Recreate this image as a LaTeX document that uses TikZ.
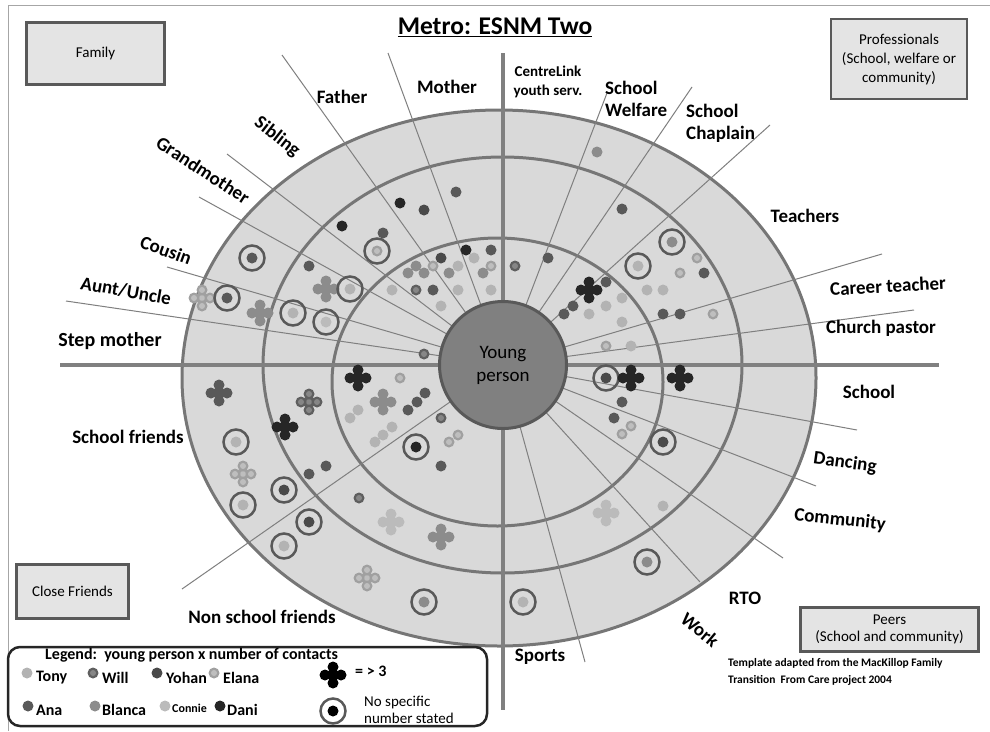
\documentclass[tikz,border=0pt]{standalone}
\usepackage{fontspec}
\setmainfont{Carlito}
\usetikzlibrary{positioning}

\definecolor{ringfill}{HTML}{D9D9D9}
\definecolor{ringline}{HTML}{767676}
\definecolor{spokec}{HTML}{7F7F7F}
\definecolor{crossc}{HTML}{808080}
\definecolor{ypfill}{HTML}{808080}
\definecolor{ypline}{HTML}{595959}
\definecolor{boxfill}{HTML}{E4E4E4}
\definecolor{boxline}{HTML}{595959}
\definecolor{markc}{HTML}{595959}
\definecolor{framec}{HTML}{A6A6A6}
% person colours: o = outer, i = inner
\definecolor{tonyo}{HTML}{B3B3B3}\colorlet{tonyi}{tonyo}
\definecolor{willo}{HTML}{5F5F5F}\definecolor{willi}{HTML}{868686}
\definecolor{yohano}{HTML}{4A4A4A}\colorlet{yohani}{yohano}
\definecolor{elanao}{HTML}{A0A0A0}\definecolor{elanai}{HTML}{BEBEBE}
\definecolor{anao}{HTML}{595959}\colorlet{anai}{anao}
\definecolor{blancao}{HTML}{8C8C8C}\colorlet{blancai}{blancao}
\definecolor{connieo}{HTML}{BBBBBB}\colorlet{conniei}{connieo}
\definecolor{danio}{HTML}{262626}\colorlet{danii}{danio}
\colorlet{blko}{black}\colorlet{blki}{black}

\newcommand{\pdot}[2]{\fill[#1o] (#2) circle (5.5); \fill[#1i] (#2) circle (3);}
\newcommand{\pring}[2]{\draw[ringmark] (#2) circle (12.5); \pdot{#1}{#2}}
\newcommand{\pclover}[2]{\begin{scope}[shift={(#2)}]
  \pdot{#1}{0,0}
  \foreach \a in {0,90,180,270} {\pdot{#1}{\a:8}}
\end{scope}}

\tikzset{
  lbl/.style={font=\bfseries\fontsize{19}{22}\selectfont, inner sep=0pt},
  boxnode/.style={draw=boxline, fill=boxfill, line width=2.5pt, align=center,
    font=\fontsize{15}{19}\selectfont, inner sep=2pt},
  spoke/.style={draw=spokec, line width=1pt},
  cross/.style={draw=crossc, line width=4pt},
  ringmark/.style={draw=markc, line width=2.5pt},
  legname/.style={font=\bfseries\fontsize{16}{18}\selectfont, inner sep=0pt, anchor=west},
}

\begin{document}
\begin{tikzpicture}[x=1pt,y=-1pt]
\useasboundingbox (0,0) rectangle (990,731);
\draw[framec, line width=1pt] (8,731) -- (8,5) -- (990,5);

% rings
\filldraw[fill=ringfill, draw=ringline, line width=3pt] (499,378) ellipse [x radius=317, y radius=268];
\draw[ringline, line width=3pt] (502.5,365) ellipse [x radius=239.5, y radius=208];
\draw[ringline, line width=3pt] (497.5,382) ellipse [x radius=165.5, y radius=144];

% spokes
\coordinate (c) at (503,365);
\coordinate (mf) at (388,53);
\coordinate (fs) at (282,55);
\coordinate (sg) at (227,154);
\coordinate (gc) at (199,197);
\coordinate (ca) at (167,267);
\coordinate (as) at (66,301);
\coordinate (cw) at (607,93);
\coordinate (wc) at (692,87);
\coordinate (ct) at (770,125);
\coordinate (tc) at (882,254);
\coordinate (cp) at (914,310);
\coordinate (sd) at (857,430);
\coordinate (dc) at (816,486);
\coordinate (cr) at (783,558);
\coordinate (rw) at (700,582);
\coordinate (ws) at (585,662);
\coordinate (nf) at (182,589);
\foreach \e in {mf,fs,sg,gc,ca,as,cw,wc,ct,tc,cp,sd,dc,cr,rw,ws,nf}
  \draw[spoke] (c) -- (\e);

\draw[cross] (60,365) -- (939,365);
\draw[cross] (503,53) -- (503,710);

\node[circle, fill=ypfill, draw=ypline, line width=3pt, minimum size=127pt, align=center,
  font=\fontsize{19}{23}\selectfont] (yp) at (c) {Young\\person};

% family
\pdot{dani}{400,203}
\pdot{yohan}{424,210}
\pdot{ana}{456,192}
\pdot{dani}{342,226}
\pdot{ana}{383,233}
\pring{elana}{377,251}
\pdot{ana}{309,266}
\pring{ana}{252,258}
\pdot{yohan}{441,258}
\pdot{dani}{466,250}
\pdot{ana}{491,250}
\pdot{elana}{433,266}
\pdot{blanca}{416,266}
\pdot{blanca}{408,273}
\pdot{blanca}{424,273}
\pdot{tony}{458,266}
\pdot{tony}{474,258}
\pdot{elana}{491,266}
\pdot{blanca}{449,273}
\pdot{blanca}{483,273}
\pdot{tony}{392,290}
\pdot{will}{416,290}
\pdot{ana}{433,290}
\pdot{tony}{458,290}
\pdot{tony}{491,290}
\pdot{tony}{441,306}
\pclover{blanca}{326,289}
\pring{tony}{350,289}
\pring{tony}{293,313}
\pring{connie}{326,322}
\pclover{elana}{202,298}
\pring{ana}{227,298}
\pclover{blanca}{260,313}
\pdot{will}{424,354}

% professionals
\pdot{blanca}{597,152}
\pdot{ana}{622,209}
\pdot{will}{515,266}
\pdot{ana}{548,258}
\pring{blanca}{672,242}
\pring{tony}{638,266}
\pdot{elana}{697,258}
\pdot{elana}{680,273}
\pdot{ana}{704,273}
\pdot{tony}{647,290}
\pdot{tony}{663,290}
\pclover{dani}{589,290}
\pdot{ana}{606,282}
\pdot{ana}{573,306}
\pdot{ana}{564,314}
\pdot{tony}{589,314}
\pdot{tony}{606,306}
\pdot{tony}{622,298}
\pdot{tony}{622,322}
\pdot{ana}{663,314}
\pdot{ana}{680,314}
\pdot{elana}{713,314}
\pdot{elana}{606,346}
\pdot{tony}{631,346}

% peers
\pring{yohan}{606,378}
\pclover{dani}{631,378}
\pclover{dani}{680,378}
\pdot{ana}{622,402}
\pdot{ana}{614,418}
\pdot{elana}{631,426}
\pdot{elana}{622,434}
\pring{yohan}{663,442}
\pclover{connie}{606,513}
\pdot{tony}{663,506}
\pring{blanca}{647,562}
\pring{tony}{523,602}

% close friends
\pclover{dani}{358,378}
\pdot{elana}{400,378}
\pclover{will}{309,402}
\pclover{blanca}{383,402}
\pdot{ana}{425,393}
\pdot{ana}{417,402}
\pdot{ana}{408,410}
\pdot{tony}{358,410}
\pdot{tony}{350,418}
\pdot{tony}{392,427}
\pdot{tony}{383,435}
\pdot{tony}{375,442}
\pdot{will}{441,418}
\pdot{elana}{458,435}
\pdot{elana}{449,442}
\pring{dani}{416,447}
\pdot{ana}{441,466}
\pclover{dani}{285,427}
\pclover{ana}{219,393}
\pring{tony}{236,442}
\pclover{elana}{243,474}
\pring{tony}{243,505}
\pdot{ana}{309,474}
\pdot{ana}{326,466}
\pring{yohan}{284,490}
\pring{yohan}{309,522}
\pring{tony}{284,546}
\pdot{will}{359,498}
\pclover{connie}{391,522}
\pclover{blanca}{441,537}
\pclover{elana}{367,578}
\pring{blanca}{424,602}

% sector labels
\node[font=\bfseries\fontsize{25.5}{29}\selectfont, inner sep=0pt] (title) at (495,27) {\underline{Metro: ESNM Two}};
\node[lbl] (mother) at (447,87) {Mother};
\node[lbl] (father) at (342,97) {Father};
\node[lbl, rotate=-38] (sibling) at (277,137) {Sibling};
\node[lbl, rotate=-33] (grandmother) at (203,170) {Grandmother};
\node[lbl, rotate=-20] (cousin) at (166,250) {Cousin};
\node[lbl, rotate=-10] (aunt) at (126,291) {Aunt/Uncle};
\node[lbl, font=\bfseries\fontsize{20}{22}\selectfont] (stepmother) at (110,341) {Step mother};
\node[lbl, align=center, font=\bfseries\fontsize{15}{19}\selectfont] (centrelink) at (548,82) {CentreLink\\youth serv.};
\node[lbl, align=left, anchor=west] (welfare) at (605,99) {School\\Welfare};
\node[lbl, align=left, anchor=west] (chaplain) at (686,123) {School\\Chaplain};
\node[lbl] (teachers) at (805,216) {Teachers};
\node[lbl, rotate=3] (career) at (888,286) {Career teacher};
\node[lbl] (church) at (881,328) {Church pastor};
\node[lbl] (school) at (869,392) {School};
\node[lbl, rotate=-8] (dancing) at (845,463) {Dancing};
\node[lbl, rotate=-6] (community) at (840,520) {Community};
\node[lbl] (rto) at (745,598) {RTO};
\node[lbl, rotate=-40] (work) at (700,630) {Work};
\node[lbl] (sports) at (540,657) {Sports};
\node[lbl] (schoolfr) at (128,437) {School friends};
\node[lbl] (nonschool) at (262,617) {Non school friends};

% corner boxes
\node[boxnode, minimum width=138pt, minimum height=62pt] (family) at (95.5,53.5) {Family};
\node[boxnode, minimum width=136pt, minimum height=80pt] (prof) at (899,59) {Professionals\\(School, welfare or\\community)};
\node[boxnode, minimum width=112pt, minimum height=54pt] (closefr) at (72.5,591.5) {Close Friends};
\node[boxnode, minimum width=178pt, minimum height=44pt, font=\fontsize{15}{17}\selectfont] (peers) at (889.5,629.5) {Peers\\(School and community)};

\node[font=\bfseries\fontsize{11.5}{17}\selectfont, align=left, anchor=west, inner sep=0pt] (note) at (728,672)
  {Template adapted from the MacKillop Family\\Transition\ \ From Care project 2004};

% legend
\draw[black!85, line width=2.5pt, rounded corners=12pt] (8,647) rectangle (487,726);
\node[font=\bfseries\fontsize{16}{18}\selectfont, anchor=west, inner sep=0pt] (legtitle) at (45,655) {Legend:\ \ young person x number of contacts};
\pdot{tony}{27,673}
\node[legname] (ltony) at (36,678) {Tony};
\pdot{will}{93,673}
\node[legname] (lwill) at (102,678) {Will};
\pdot{yohan}{157,673}
\node[legname] (lyohan) at (166,678) {Yohan};
\pdot{elana}{214,673}
\node[legname] (lelana) at (223,678) {Elana};
\pdot{ana}{28,706}
\node[legname] (lana) at (36,710) {Ana};
\pdot{blanca}{95,706}
\node[legname] (lblanca) at (102,710) {Blanca};
\pdot{connie}{165,706}
\node[legname, font=\bfseries\fontsize{12}{14}\selectfont] (lconnie) at (172,708) {Connie};
\pdot{dani}{220,706}
\node[legname] (ldani) at (227,710) {Dani};
\pclover{blk}{333,675}
\node[legname] (lmore) at (355,671) {= > 3};
\pring{blk}{333,711}
\node[font=\fontsize{15}{17}\selectfont, align=left, anchor=west, inner sep=0pt] (lnone) at (364,710) {No specific\\number stated};
\end{tikzpicture}
\end{document}
